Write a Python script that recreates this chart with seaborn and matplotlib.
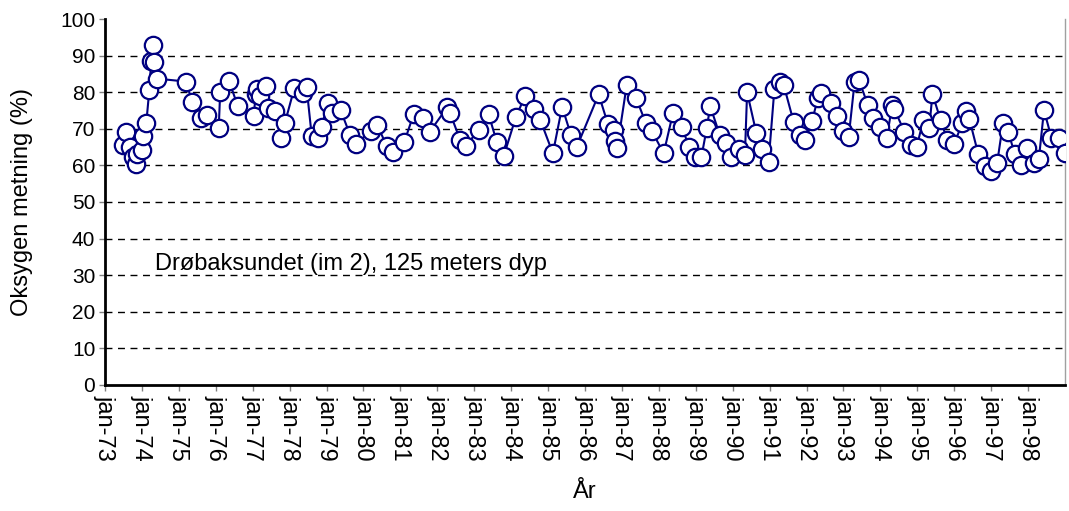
import numpy as np
import pandas as pd
import matplotlib
matplotlib.use("Agg")
import matplotlib.pyplot as plt
import seaborn as sns

# Tidspunkt (desimalår) og oksygenmetning (%) lest av figuren
year = [
    1973.50, 1973.58, 1973.67, 1973.75, 1973.83, 1973.88, 1974.00, 1974.04,
    1974.12, 1974.20, 1974.25, 1974.29, 1974.33, 1974.42, 1975.20, 1975.36,
    1975.60, 1975.77, 1976.08, 1976.12, 1976.36, 1976.60, 1977.03, 1977.08,
    1977.13, 1977.20, 1977.35, 1977.42, 1977.60, 1977.78, 1977.87, 1978.13,
    1978.37, 1978.46, 1978.60, 1978.78, 1978.87, 1979.03, 1979.14, 1979.38,
    1979.64, 1979.79, 1980.21, 1980.37, 1980.63, 1980.80, 1981.11, 1981.36,
    1981.62, 1981.79, 1982.27, 1982.35, 1982.62, 1982.78, 1983.12, 1983.39,
    1983.61, 1983.80, 1984.13, 1984.38, 1984.63, 1984.79, 1985.13, 1985.38,
    1985.62, 1985.78, 1986.37, 1986.62, 1986.78, 1986.80, 1986.87, 1987.13,
    1987.38, 1987.65, 1987.81, 1988.13, 1988.38, 1988.64, 1988.81, 1988.97,
    1989.15, 1989.30, 1989.39, 1989.65, 1989.82, 1989.96, 1990.16, 1990.33,
    1990.39, 1990.64, 1990.80, 1990.97, 1991.13, 1991.29, 1991.38, 1991.65,
    1991.81, 1991.97, 1992.15, 1992.31, 1992.40, 1992.65, 1992.83, 1992.99,
    1993.14, 1993.30, 1993.42, 1993.66, 1993.80, 1993.98, 1994.17, 1994.32,
    1994.38, 1994.65, 1994.82, 1994.98, 1995.16, 1995.32, 1995.41, 1995.63,
    1995.81, 1995.99, 1996.22, 1996.31, 1996.41, 1996.65, 1996.82, 1997.00,
    1997.16, 1997.32, 1997.46, 1997.64, 1997.82, 1997.98, 1998.16, 1998.29,
    1998.43, 1998.63, 1998.84, 1999.00,
]
oxygen = [
    65.5, 69.0, 65.0, 62.3, 60.5, 63.2, 64.2, 68.0,
    71.7, 80.5, 88.5, 92.9, 88.2, 83.7, 82.9, 77.2,
    72.9, 73.9, 70.1, 80.0, 83.1, 76.1, 73.6, 79.4,
    81.0, 79.0, 81.8, 75.6, 74.9, 67.4, 71.5, 81.2,
    79.7, 81.3, 68.0, 67.4, 70.4, 77.1, 74.4, 75.1,
    68.3, 65.8, 69.5, 71.0, 65.4, 63.7, 66.5, 74.0,
    72.9, 69.1, 75.9, 74.2, 66.9, 65.4, 69.7, 74.0,
    66.4, 62.6, 73.3, 79.0, 75.3, 72.4, 63.3, 76.0,
    68.3, 65.1, 79.4, 71.3, 69.7, 66.8, 64.7, 82.0,
    78.5, 71.5, 69.4, 63.3, 74.2, 70.4, 64.9, 62.4,
    62.2, 70.3, 76.2, 68.3, 66.0, 62.4, 64.4, 62.8,
    80.0, 68.8, 64.4, 60.8, 81.0, 82.9, 82.0, 71.9,
    68.3, 66.9, 72.2, 78.5, 79.9, 77.0, 73.5, 69.5,
    67.7, 82.7, 83.3, 76.5, 72.9, 70.4, 67.4, 76.5,
    75.3, 69.2, 65.6, 64.9, 72.4, 70.1, 79.5, 72.4,
    66.9, 65.8, 71.5, 74.9, 72.6, 63.1, 59.9, 58.6,
    60.6, 71.5, 69.2, 63.1, 60.1, 64.8, 60.7, 61.7,
    75.1, 67.6, 67.4, 63.3,
]

tick_years = list(range(1973, 1999))
tick_labels = ["jan-%02d" % (y % 100) for y in tick_years]
y_ticks = list(range(0, 101, 10))

df = pd.DataFrame({"year": year, "oxygen": oxygen})

sns.set_style("white")
plt.rcParams["font.family"] = ["Liberation Sans", "DejaVu Sans"]
plt.rcParams["text.color"] = "black"
plt.rcParams["axes.labelcolor"] = "black"
plt.rcParams["xtick.color"] = "black"
plt.rcParams["ytick.color"] = "black"

fig = plt.figure(figsize=(10.69, 5.11), dpi=100)
ax = fig.add_axes([0.0982, 0.2466, 0.8981, 0.7162])

navy = "#000080"
sns.lineplot(data=df, x="year", y="oxygen", ax=ax, sort=False,
             color=navy, linewidth=1.5, marker="o", markersize=12.5,
             markerfacecolor="white", markeredgecolor=navy,
             markeredgewidth=1.6, zorder=3)

ax.set_xlim(1973, 1999)
ax.set_ylim(0, 100)
ax.set_yticks(y_ticks)
ax.set_xticks(tick_years)
ax.set_xticklabels(tick_labels, rotation=-90, fontsize=17)
ax.tick_params(axis="y", labelsize=15)
ax.tick_params(axis="both", direction="out", length=4, width=1,
               color="#808080", labelcolor="black", bottom=True, left=True,
               pad=3)

# stiplede hjelpelinjer, ikke ved 0 og 100
ax.yaxis.grid(True, linestyle=(0, (5, 4)), color="black", linewidth=1)
ax.set_axisbelow(True)
for gl in (ax.get_ygridlines()[0], ax.get_ygridlines()[-1]):
    gl.set_visible(False)

for s in ["left", "bottom"]:
    ax.spines[s].set_color("black")
    ax.spines[s].set_linewidth(2)
ax.spines["top"].set_visible(False)
ax.spines["right"].set_color("#a0a0a0")
ax.spines["right"].set_linewidth(1)

ax.set_xlabel("År", fontsize=17)
ax.set_ylabel("Oksygen metning (%)", fontsize=17)
ax.xaxis.set_label_coords(0.5, -0.262)
ax.yaxis.set_label_coords(-0.075, 0.5)

ax.text(1974.36, 31.4, "Drøbaksundet (im 2), 125 meters dyp", fontsize=17,
        va="baseline", ha="left", zorder=4)

fig.savefig("out.png", dpi=100)
